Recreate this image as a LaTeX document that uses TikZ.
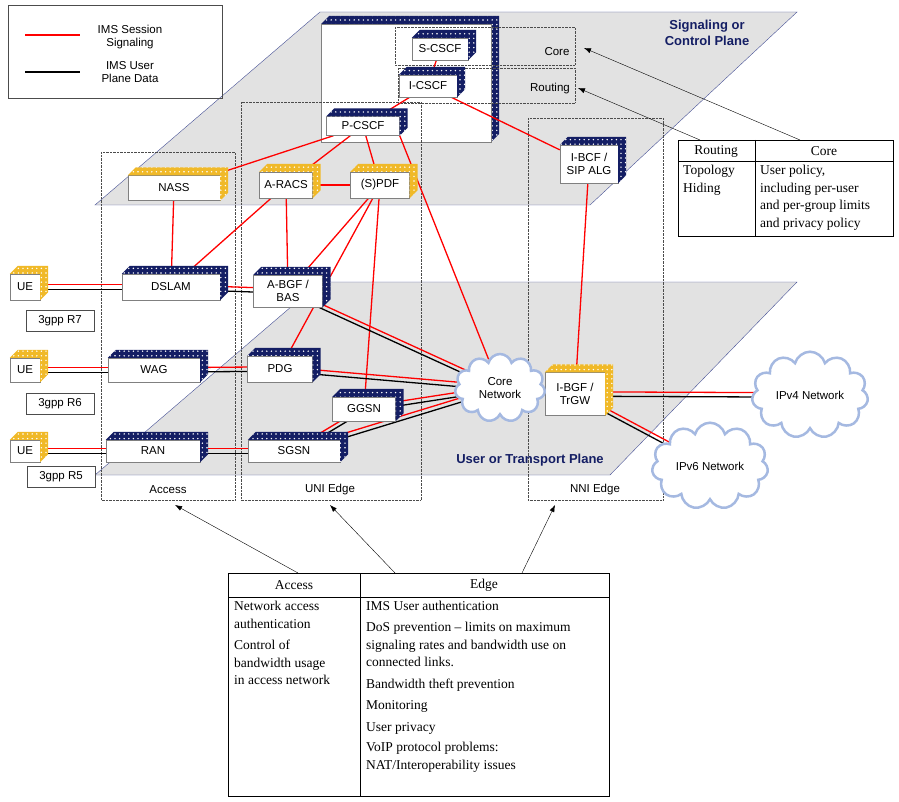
\documentclass[tikz,border=0pt]{standalone}
\usepackage{fontspec}
\setmainfont{Liberation Serif}
\newfontfamily\arial{Liberation Sans}
\usetikzlibrary{positioning,patterns,shapes.symbols,backgrounds,arrows.meta}
\definecolor{navy}{RGB}{20,30,100}
\definecolor{gold}{RGB}{240,185,40}
\definecolor{planegray}{RGB}{226,226,226}
\definecolor{planeline}{RGB}{70,80,150}
\definecolor{cloudblue}{RGB}{165,185,225}
\pgfdeclarepatternformonly{bigdots}{\pgfpoint{-1pt}{-1pt}}{\pgfpoint{1pt}{1pt}}{\pgfpoint{4.6pt}{4.6pt}}
  {\pgfpathcircle{\pgfpointorigin}{0.8pt}\pgfusepath{fill}}
\tikzset{
  lbl/.style={font=\arial\fontsize{11.5}{13.5}\selectfont},
  unit/.style={lbl,draw=gray,fill=white,align=center,inner sep=1pt,minimum height=24},
  sig/.style={red,line width=1.3pt},
  dat/.style={black,line width=1.3pt},
  zone/.style={draw=black!70,densely dotted,thin},
  plane/.style={fill=planegray,draw=planeline,thin},
  net/.style={lbl,cloud,cloud puffs=11,aspect=1.6,draw=cloudblue,line width=2.5pt,fill=white,
    align=center},
  tag/.style={lbl,draw=black!70,fill=white,minimum width=68,minimum height=21,inner sep=1pt},
  cell/.style={font=\fontsize{13.5}{17.5}\selectfont,anchor=north west,inner sep=0pt,align=left},
  hd/.style={font=\fontsize{13.5}{17.5}\selectfont},
  ptr/.style={-{Latex[length=7pt,width=5pt]},thin}
}
% 3D box: [face colour] name, position, text, options
\newcommand{\cube}[5][navy]{%
  \node[unit,#5] (#2) at #3 {#4};
  \fill[#1,postaction={pattern=bigdots,pattern color=white}]
    (#2.north west) -- ++(8,-8) -- ([shift={(8,-8)}]#2.north east)
    -- ([shift={(8,-8)}]#2.south east) -- (#2.south east) -- (#2.north east) -- cycle;}
% signaling + data pair
\newcommand{\pair}[2]{%
  \draw[sig] ([yshift=2.2pt]#1.center) -- ([yshift=2.2pt]#2.center);
  \draw[dat] ([yshift=-2.2pt]#1.center) -- ([yshift=-2.2pt]#2.center);}
\begin{document}
\begin{tikzpicture}[x=1pt,y=-1pt]
\useasboundingbox (0,0) rectangle (899,802);

\begin{scope}[on background layer]
% planes
\draw[plane] (95,205) -- (320,12) -- (797,12) -- (590,205) -- cycle;
\draw[plane] (95,475) -- (320,282) -- (797,282) -- (610,475) -- cycle;
% CSCF block
\fill[navy,postaction={pattern=bigdots,pattern color=white}]
  (321,24) -- (329,16) -- (499,16) -- (499,134) -- (491,142) -- (491,24) -- cycle;
\draw[gray,fill=white] (321,24) rectangle (491,142);
% zones
\draw[zone] (101,152) rectangle (235,500);
\draw[zone] (241,102) rectangle (421,500);
\draw[zone] (528,118) rectangle (663,500);
\draw[zone] (395,27) rectangle (575,65);
\draw[zone] (398,68) rectangle (575,103);
\end{scope}

\node[lbl] at (557,52) {Core};
\node[lbl] at (550,89) {Routing};
\node[lbl] at (168,490) {Access};
\node[lbl] at (330,490) {UNI Edge};
\node[lbl] at (595,490) {NNI Edge};
\node[font=\arial\bfseries\fontsize{13}{16}\selectfont,text=navy,align=center] at (707,33)
  {Signaling or\\Control Plane};
\node[font=\arial\bfseries\fontsize{13}{16}\selectfont,text=navy] at (530,460)
  {User or Transport Plane};

% legend
\draw[black!70] (8,5) rectangle (222,98);
\coordinate (l1) at (25,35); \coordinate (l2) at (80,35);
\coordinate (l3) at (25,72); \coordinate (l4) at (80,72);
\draw[sig] (l1) -- (l2);
\draw[dat] (l3) -- (l4);
\node[lbl,align=center] at (130,37) {IMS Session\\Signaling};
\node[lbl,align=center] at (130,72) {IMS User\\Plane Data};

% control plane
\cube{scscf}{(440,49)}{S-CSCF}{minimum width=56,minimum height=22}
\cube{icscf}{(428,86)}{I-CSCF}{minimum width=58,minimum height=22}
\cube{pcscf}{(363,126)}{P-CSCF}{minimum width=73,minimum height=19}
\cube[gold]{nass}{(174,188)}{NASS}{minimum width=92,minimum height=25}
\cube[gold]{aracs}{(286,185)}{A-RACS}{minimum width=53,minimum height=26}
\cube[gold]{spdf}{(380,185)}{(S)PDF}{minimum width=59,minimum height=26}
\cube{ibcf}{(589,164)}{I-BCF /\\SIP ALG}{minimum width=58,minimum height=38}

% transport plane
\cube[gold]{ue1}{(25,287)}{UE}{minimum width=30,minimum height=26}
\cube[gold]{ue2}{(25,370)}{UE}{minimum width=30,minimum height=24}
\cube[gold]{ue3}{(25,451)}{UE}{minimum width=30,minimum height=22}
\cube{dslam}{(171,287)}{DSLAM}{minimum width=98,minimum height=26}
\cube{abgf}{(288,291)}{A-BGF /\\BAS}{minimum width=69,minimum height=32}
\cube{wag}{(154,370)}{WAG}{minimum width=92,minimum height=24}
\cube{pdg}{(280,369)}{PDG}{minimum width=65,minimum height=26}
\cube{ggsn}{(364,409)}{GGSN}{minimum width=63,minimum height=24}
\cube{ran}{(153,451)}{RAN}{minimum width=94,minimum height=22}
\cube{sgsn}{(294,451)}{SGSN}{minimum width=92,minimum height=22}
\cube[gold]{ibgf}{(575,394)}{I-BGF /\\TrGW}{minimum width=60,minimum height=43}
\node[net,minimum width=90,minimum height=68] (core) at (500,388) {Core\\Network};
\node[net,minimum width=92,minimum height=52] (ipv4) at (810,395) {IPv4 Network};
\node[net,minimum width=88,minimum height=54] (ipv6) at (710,466) {IPv6 Network};
\node[tag] (r7) at (60,321) {3gpp R7};
\node[tag] (r6) at (60,404) {3gpp R6};
\node[tag] (r5) at (61,477) {3gpp R5};

\begin{scope}[on background layer]
\draw[sig] (scscf) -- (icscf);
\draw[sig] (icscf) -- (pcscf);
\draw[sig] (icscf) -- (ibcf);
\draw[sig] (pcscf) -- (nass);
\draw[sig] (pcscf) -- (aracs);
\draw[sig] (pcscf) -- (spdf);
\draw[sig] (pcscf.south east) -- (core);
\draw[sig] (aracs) -- (spdf);
\draw[sig] (nass) -- (dslam);
\draw[sig] (aracs) -- (dslam);
\draw[sig] (aracs) -- (abgf);
\draw[sig] (spdf) -- (abgf);
\draw[sig] (spdf) -- (pdg);
\draw[sig] (spdf) -- (ggsn);
\draw[sig] (ibcf) -- (ibgf);
\pair{ue1}{dslam} \pair{dslam}{abgf} \pair{abgf}{core}
\pair{ue2}{wag} \pair{wag}{pdg} \pair{pdg}{core}
\pair{ue3}{ran} \pair{ran}{sgsn} \pair{sgsn}{ggsn}
\pair{ggsn}{core} \pair{sgsn}{core}
\pair{core}{ibgf} \pair{ibgf}{ipv4} \pair{ibgf}{ipv6}
\end{scope}

% right table
\draw[thin] (678,140) rectangle (893,236) (678,161) -- (893,161) (755,140) -- (755,236);
\node[hd] at (716,151) {Routing};
\node[hd] at (824,151) {Core};
\node[cell] at (683,165) {Topology\\Hiding};
\node[cell] at (760,165) {User policy,\\including per-user\\and per-group limits\\and privacy policy};
\coordinate (rt) at (700,140); \coordinate (rtip) at (578,88);
\coordinate (ct) at (800,140); \coordinate (ctip) at (584,48);
\draw[ptr] (rt) -- (rtip);
\draw[ptr] (ct) -- (ctip);

% bottom table
\draw[thin] (228,573) rectangle (609,796) (228,597) -- (609,597) (360,573) -- (360,796);
\node[hd] at (294,585) {Access};
\node[hd] at (484,585) {Edge};
\node[cell] at (234,601) {Network access\\authentication};
\node[cell] at (234,640) {Control of\\bandwidth usage\\in access network};
\node[cell] at (366,601) {IMS User authentication};
\node[cell] at (366,622) {DoS prevention -- limits on maximum\\signaling rates and bandwidth use on\\connected links.};
\node[cell] at (366,679) {Bandwidth theft prevention};
\node[cell] at (366,700) {Monitoring};
\node[cell] at (366,722) {User privacy};
\node[cell] at (366,742) {VoIP protocol problems:\\NAT/Interoperability issues};
\coordinate (a1) at (298,573); \coordinate (a1tip) at (175,505);
\coordinate (a2) at (395,573); \coordinate (a2tip) at (330,505);
\coordinate (a3) at (522,573); \coordinate (a3tip) at (555,505);
\draw[ptr] (a1) -- (a1tip);
\draw[ptr] (a2) -- (a2tip);
\draw[ptr] (a3) -- (a3tip);
\end{tikzpicture}
\end{document}
